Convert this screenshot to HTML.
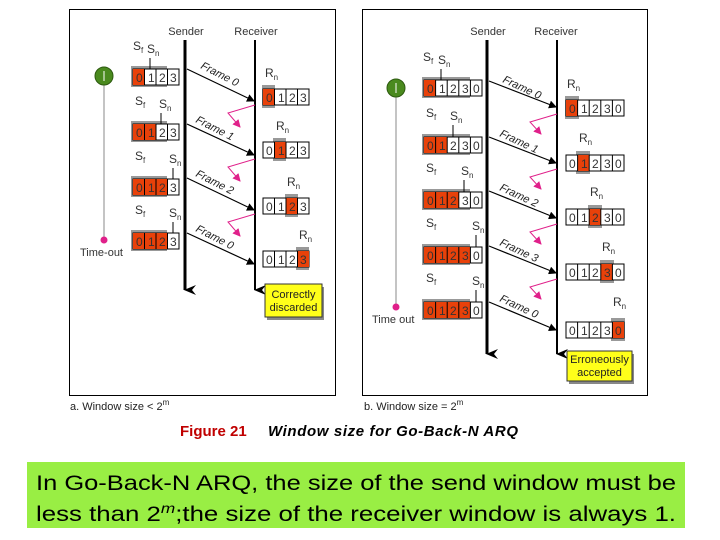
<!DOCTYPE html>
<html><head><meta charset="utf-8"><style>
html,body{margin:0;padding:0;background:#fff;width:720px;height:540px;overflow:hidden}
svg{display:block}
text{font-family:"Liberation Sans",sans-serif}
</style></head><body>
<svg width="720" height="540" viewBox="0 0 720 540" xmlns="http://www.w3.org/2000/svg">
<defs>
<marker id="ah" markerWidth="8" markerHeight="8" refX="7" refY="4" orient="auto" markerUnits="userSpaceOnUse"><path d="M0,0 L8,4 L0,8 z" fill="#000"/></marker>
<marker id="mh" markerWidth="8" markerHeight="8" refX="7" refY="4" orient="auto" markerUnits="userSpaceOnUse"><path d="M0,0 L8,4 L0,8 z" fill="#e0208a"/></marker>
<marker id="bh" markerWidth="10" markerHeight="12" refX="5" refY="11" orient="auto" markerUnits="userSpaceOnUse"><path d="M0,0 L5,12 L10,0 L5,4 z" fill="#000"/></marker>
</defs>
<!-- panel frames -->
<rect x="69.5" y="9.5" width="266" height="386" fill="#fff" stroke="#000" stroke-width="1"/>
<rect x="362.5" y="9.5" width="285" height="386" fill="#fff" stroke="#000" stroke-width="1"/>

<g font-size="11" fill="#333">
<!-- ===== Panel A ===== -->
<text x="186" y="35" text-anchor="middle">Sender</text>
<text x="256" y="35" text-anchor="middle">Receiver</text>
<line x1="185" y1="40" x2="185" y2="290" stroke="#000" stroke-width="3" marker-end="url(#bh)"/>
<line x1="255" y1="40" x2="255" y2="290" stroke="#000" stroke-width="2" marker-end="url(#bh)"/>
<!-- timer -->
<line x1="104" y1="78" x2="104" y2="240" stroke="#888" stroke-width="1"/>
<circle cx="104" cy="76" r="9" fill="#4a8a1e" stroke="#2d5a10"/>
<line x1="104" y1="71" x2="104" y2="81" stroke="#fff" stroke-width="1"/>
<circle cx="104" cy="240" r="3.5" fill="#e0208a"/>
<text x="80" y="256">Time-out</text>

<!-- sender windows A -->
<g font-size="12">
<!-- row1 -->
<rect x="131" y="66" width="36" height="21" fill="#999"/>
<rect x="133" y="69" width="46" height="16" fill="#fff" stroke="#000"/>
<rect x="133" y="69" width="11.5" height="16" fill="#e8410a"/>
<g stroke="#000"><line x1="144.5" y1="69" x2="144.5" y2="85"/><line x1="156" y1="69" x2="156" y2="85"/><line x1="167.5" y1="69" x2="167.5" y2="85"/></g>
<text x="136" y="82">0</text><text x="148" y="82">1</text><text x="159" y="82">2</text><text x="170" y="82">3</text>
<text x="133" y="50">S<tspan font-size="8" dy="3">f</tspan></text><text x="147" y="53">S<tspan font-size="8" dy="3">n</tspan></text>
<line x1="150" y1="58" x2="150" y2="69" stroke="#000"/>
<!-- row2 -->
<rect x="131" y="121" width="36" height="21" fill="#999"/>
<rect x="133" y="124" width="46" height="16" fill="#fff" stroke="#000"/>
<rect x="133" y="124" width="23" height="16" fill="#e8410a"/>
<g stroke="#000"><line x1="144.5" y1="124" x2="144.5" y2="140"/><line x1="156" y1="124" x2="156" y2="140"/><line x1="167.5" y1="124" x2="167.5" y2="140"/></g>
<text x="136" y="137">0</text><text x="148" y="137">1</text><text x="159" y="137">2</text><text x="170" y="137">3</text>
<text x="135" y="105">S<tspan font-size="8" dy="3">f</tspan></text><text x="159" y="108">S<tspan font-size="8" dy="3">n</tspan></text>
<line x1="161" y1="113" x2="161" y2="124" stroke="#000"/>
<!-- row3 -->
<rect x="131" y="176" width="36" height="21" fill="#999"/>
<rect x="133" y="179" width="46" height="16" fill="#fff" stroke="#000"/>
<rect x="133" y="179" width="34.5" height="16" fill="#e8410a"/>
<g stroke="#000"><line x1="144.5" y1="179" x2="144.5" y2="195"/><line x1="156" y1="179" x2="156" y2="195"/><line x1="167.5" y1="179" x2="167.5" y2="195"/></g>
<text x="136" y="192">0</text><text x="148" y="192">1</text><text x="159" y="192">2</text><text x="170" y="192">3</text>
<text x="135" y="160">S<tspan font-size="8" dy="3">f</tspan></text><text x="169" y="163">S<tspan font-size="8" dy="3">n</tspan></text>
<line x1="173" y1="168" x2="173" y2="179" stroke="#000"/>
<!-- row4 -->
<rect x="131" y="230" width="36" height="21" fill="#999"/>
<rect x="133" y="233" width="46" height="16" fill="#fff" stroke="#000"/>
<rect x="133" y="233" width="34.5" height="16" fill="#e8410a"/>
<g stroke="#000"><line x1="144.5" y1="233" x2="144.5" y2="249"/><line x1="156" y1="233" x2="156" y2="249"/><line x1="167.5" y1="233" x2="167.5" y2="249"/></g>
<text x="136" y="246">0</text><text x="148" y="246">1</text><text x="159" y="246">2</text><text x="170" y="246">3</text>
<text x="135" y="214">S<tspan font-size="8" dy="3">f</tspan></text><text x="169" y="217">S<tspan font-size="8" dy="3">n</tspan></text>
<line x1="173" y1="222" x2="173" y2="233" stroke="#000"/>

<!-- receiver windows A -->
<rect x="262" y="85" width="13" height="23" fill="#999"/>
<rect x="263" y="89" width="46" height="16" fill="#fff" stroke="#000"/>
<rect x="263" y="89" width="11.5" height="16" fill="#e8410a"/>
<g stroke="#000"><line x1="274.5" y1="89" x2="274.5" y2="105"/><line x1="286" y1="89" x2="286" y2="105"/><line x1="297.5" y1="89" x2="297.5" y2="105"/></g>
<text x="266" y="102">0</text><text x="278" y="102">1</text><text x="289" y="102">2</text><text x="300" y="102">3</text>
<text x="265" y="77">R<tspan font-size="8" dy="3">n</tspan></text>

<rect x="273" y="138" width="13" height="23" fill="#999"/>
<rect x="263" y="142" width="46" height="16" fill="#fff" stroke="#000"/>
<rect x="274.5" y="142" width="11.5" height="16" fill="#e8410a"/>
<g stroke="#000"><line x1="274.5" y1="142" x2="274.5" y2="158"/><line x1="286" y1="142" x2="286" y2="158"/><line x1="297.5" y1="142" x2="297.5" y2="158"/></g>
<text x="266" y="155">0</text><text x="278" y="155">1</text><text x="289" y="155">2</text><text x="300" y="155">3</text>
<text x="276" y="130">R<tspan font-size="8" dy="3">n</tspan></text>

<rect x="285" y="194" width="13" height="23" fill="#999"/>
<rect x="263" y="198" width="46" height="16" fill="#fff" stroke="#000"/>
<rect x="286" y="198" width="11.5" height="16" fill="#e8410a"/>
<g stroke="#000"><line x1="274.5" y1="198" x2="274.5" y2="214"/><line x1="286" y1="198" x2="286" y2="214"/><line x1="297.5" y1="198" x2="297.5" y2="214"/></g>
<text x="266" y="211">0</text><text x="278" y="211">1</text><text x="289" y="211">2</text><text x="300" y="211">3</text>
<text x="287" y="186">R<tspan font-size="8" dy="3">n</tspan></text>

<rect x="296" y="247" width="13" height="23" fill="#999"/>
<rect x="263" y="251" width="46" height="16" fill="#fff" stroke="#000"/>
<rect x="297.5" y="251" width="11.5" height="16" fill="#e8410a"/>
<g stroke="#000"><line x1="274.5" y1="251" x2="274.5" y2="267"/><line x1="286" y1="251" x2="286" y2="267"/><line x1="297.5" y1="251" x2="297.5" y2="267"/></g>
<text x="266" y="264">0</text><text x="278" y="264">1</text><text x="289" y="264">2</text><text x="300" y="264">3</text>
<text x="299" y="239">R<tspan font-size="8" dy="3">n</tspan></text>
</g>

<!-- frames A -->
<g stroke="#000" stroke-width="1.2">
<line x1="187" y1="69" x2="254" y2="101" marker-end="url(#ah)"/>
<line x1="187" y1="124" x2="254" y2="155" marker-end="url(#ah)"/>
<line x1="187" y1="178" x2="254" y2="210" marker-end="url(#ah)"/>
<line x1="187" y1="233" x2="254" y2="264" marker-end="url(#ah)"/>
</g>
<g font-style="italic" font-size="11" fill="#222">
<text transform="translate(200,68) rotate(27)">Frame 0</text>
<text transform="translate(195,122) rotate(27)">Frame 1</text>
<text transform="translate(195,176) rotate(27)">Frame 2</text>
<text transform="translate(195,231) rotate(27)">Frame 0</text>
</g>
<g stroke="#e0208a" stroke-width="1" fill="none">
<polyline points="255,105 228,113 240,127" marker-end="url(#mh)"/>
<polyline points="255,159 228,167 240,181" marker-end="url(#mh)"/>
<polyline points="255,214 228,222 240,236" marker-end="url(#mh)"/>
</g>
<rect x="267" y="287" width="57" height="33" fill="#888"/>
<rect x="265" y="284" width="57" height="33" fill="#ffff1a" stroke="#333"/>
<text x="293.5" y="298" text-anchor="middle" font-size="11" fill="#222">Correctly</text>
<text x="293.5" y="311" text-anchor="middle" font-size="11" fill="#222">discarded</text>
<text x="70" y="410" font-size="11" fill="#222">a. Window size &lt; 2<tspan font-size="8" dy="-5">m</tspan></text>

<!-- ===== Panel B ===== -->
<text x="488" y="35" text-anchor="middle">Sender</text>
<text x="556" y="35" text-anchor="middle">Receiver</text>
<line x1="487" y1="40" x2="487" y2="354" stroke="#000" stroke-width="3" marker-end="url(#bh)"/>
<line x1="557" y1="40" x2="557" y2="354" stroke="#000" stroke-width="2" marker-end="url(#bh)"/>
<line x1="396" y1="90" x2="396" y2="307" stroke="#888" stroke-width="1"/>
<circle cx="396" cy="88" r="9" fill="#4a8a1e" stroke="#2d5a10"/>
<line x1="396" y1="83" x2="396" y2="93" stroke="#fff"/>
<circle cx="396" cy="307" r="3.5" fill="#e0208a"/>
<text x="372" y="323">Time out</text>

<g font-size="12">
<!-- sender B rows: x=424, w=11.6 -->
<rect x="422" y="77" width="48" height="21" fill="#999"/>
<rect x="424" y="80" width="58" height="16" fill="#fff" stroke="#000"/>
<rect x="424" y="80" width="11.6" height="16" fill="#e8410a"/>
<g stroke="#000"><line x1="435.6" y1="80" x2="435.6" y2="96"/><line x1="447.2" y1="80" x2="447.2" y2="96"/><line x1="458.8" y1="80" x2="458.8" y2="96"/><line x1="470.4" y1="80" x2="470.4" y2="96"/></g>
<text x="427" y="93">0</text><text x="439" y="93">1</text><text x="450" y="93">2</text><text x="462" y="93">3</text><text x="473" y="93">0</text>
<text x="423" y="61">S<tspan font-size="8" dy="3">f</tspan></text><text x="438" y="64">S<tspan font-size="8" dy="3">n</tspan></text>
<line x1="441" y1="69" x2="441" y2="80" stroke="#000"/>

<rect x="422" y="134" width="48" height="21" fill="#999"/>
<rect x="424" y="137" width="58" height="16" fill="#fff" stroke="#000"/>
<rect x="424" y="137" width="23.2" height="16" fill="#e8410a"/>
<g stroke="#000"><line x1="435.6" y1="137" x2="435.6" y2="153"/><line x1="447.2" y1="137" x2="447.2" y2="153"/><line x1="458.8" y1="137" x2="458.8" y2="153"/><line x1="470.4" y1="137" x2="470.4" y2="153"/></g>
<text x="427" y="150">0</text><text x="439" y="150">1</text><text x="450" y="150">2</text><text x="462" y="150">3</text><text x="473" y="150">0</text>
<text x="426" y="117">S<tspan font-size="8" dy="3">f</tspan></text><text x="450" y="120">S<tspan font-size="8" dy="3">n</tspan></text>
<line x1="453" y1="125" x2="453" y2="137" stroke="#000"/>

<rect x="422" y="189" width="48" height="21" fill="#999"/>
<rect x="424" y="192" width="58" height="16" fill="#fff" stroke="#000"/>
<rect x="424" y="192" width="34.8" height="16" fill="#e8410a"/>
<g stroke="#000"><line x1="435.6" y1="192" x2="435.6" y2="208"/><line x1="447.2" y1="192" x2="447.2" y2="208"/><line x1="458.8" y1="192" x2="458.8" y2="208"/><line x1="470.4" y1="192" x2="470.4" y2="208"/></g>
<text x="427" y="205">0</text><text x="439" y="205">1</text><text x="450" y="205">2</text><text x="462" y="205">3</text><text x="473" y="205">0</text>
<text x="426" y="172">S<tspan font-size="8" dy="3">f</tspan></text><text x="461" y="175">S<tspan font-size="8" dy="3">n</tspan></text>
<line x1="464" y1="180" x2="464" y2="192" stroke="#000"/>

<rect x="422" y="244" width="48" height="21" fill="#999"/>
<rect x="424" y="247" width="58" height="16" fill="#fff" stroke="#000"/>
<rect x="424" y="247" width="46.4" height="16" fill="#e8410a"/>
<g stroke="#000"><line x1="435.6" y1="247" x2="435.6" y2="263"/><line x1="447.2" y1="247" x2="447.2" y2="263"/><line x1="458.8" y1="247" x2="458.8" y2="263"/><line x1="470.4" y1="247" x2="470.4" y2="263"/></g>
<text x="427" y="260">0</text><text x="439" y="260">1</text><text x="450" y="260">2</text><text x="462" y="260">3</text><text x="473" y="260">0</text>
<text x="426" y="227">S<tspan font-size="8" dy="3">f</tspan></text><text x="472" y="230">S<tspan font-size="8" dy="3">n</tspan></text>
<line x1="476" y1="235" x2="476" y2="247" stroke="#000"/>

<rect x="422" y="299" width="48" height="21" fill="#999"/>
<rect x="424" y="302" width="58" height="16" fill="#fff" stroke="#000"/>
<rect x="424" y="302" width="46.4" height="16" fill="#e8410a"/>
<g stroke="#000"><line x1="435.6" y1="302" x2="435.6" y2="318"/><line x1="447.2" y1="302" x2="447.2" y2="318"/><line x1="458.8" y1="302" x2="458.8" y2="318"/><line x1="470.4" y1="302" x2="470.4" y2="318"/></g>
<text x="427" y="315">0</text><text x="439" y="315">1</text><text x="450" y="315">2</text><text x="462" y="315">3</text><text x="473" y="315">0</text>
<text x="426" y="282">S<tspan font-size="8" dy="3">f</tspan></text><text x="472" y="285">S<tspan font-size="8" dy="3">n</tspan></text>
<line x1="476" y1="290" x2="476" y2="302" stroke="#000"/>

<!-- receiver B x=566 -->
<rect x="565" y="96" width="14" height="23" fill="#999"/>
<rect x="566" y="100" width="58" height="16" fill="#fff" stroke="#000"/>
<rect x="566" y="100" width="11.6" height="16" fill="#e8410a"/>
<g stroke="#000"><line x1="577.6" y1="100" x2="577.6" y2="116"/><line x1="589.2" y1="100" x2="589.2" y2="116"/><line x1="600.8" y1="100" x2="600.8" y2="116"/><line x1="612.4" y1="100" x2="612.4" y2="116"/></g>
<text x="569" y="113">0</text><text x="581" y="113">1</text><text x="592" y="113">2</text><text x="604" y="113">3</text><text x="615" y="113">0</text>
<text x="567" y="88">R<tspan font-size="8" dy="3">n</tspan></text>

<rect x="576" y="151" width="14" height="23" fill="#999"/>
<rect x="566" y="155" width="58" height="16" fill="#fff" stroke="#000"/>
<rect x="577.6" y="155" width="11.6" height="16" fill="#e8410a"/>
<g stroke="#000"><line x1="577.6" y1="155" x2="577.6" y2="171"/><line x1="589.2" y1="155" x2="589.2" y2="171"/><line x1="600.8" y1="155" x2="600.8" y2="171"/><line x1="612.4" y1="155" x2="612.4" y2="171"/></g>
<text x="569" y="168">0</text><text x="581" y="168">1</text><text x="592" y="168">2</text><text x="604" y="168">3</text><text x="615" y="168">0</text>
<text x="579" y="142">R<tspan font-size="8" dy="3">n</tspan></text>

<rect x="588" y="205" width="14" height="23" fill="#999"/>
<rect x="566" y="209" width="58" height="16" fill="#fff" stroke="#000"/>
<rect x="589.2" y="209" width="11.6" height="16" fill="#e8410a"/>
<g stroke="#000"><line x1="577.6" y1="209" x2="577.6" y2="225"/><line x1="589.2" y1="209" x2="589.2" y2="225"/><line x1="600.8" y1="209" x2="600.8" y2="225"/><line x1="612.4" y1="209" x2="612.4" y2="225"/></g>
<text x="569" y="222">0</text><text x="581" y="222">1</text><text x="592" y="222">2</text><text x="604" y="222">3</text><text x="615" y="222">0</text>
<text x="590" y="196">R<tspan font-size="8" dy="3">n</tspan></text>

<rect x="600" y="260" width="14" height="23" fill="#999"/>
<rect x="566" y="264" width="58" height="16" fill="#fff" stroke="#000"/>
<rect x="600.8" y="264" width="11.6" height="16" fill="#e8410a"/>
<g stroke="#000"><line x1="577.6" y1="264" x2="577.6" y2="280"/><line x1="589.2" y1="264" x2="589.2" y2="280"/><line x1="600.8" y1="264" x2="600.8" y2="280"/><line x1="612.4" y1="264" x2="612.4" y2="280"/></g>
<text x="569" y="277">0</text><text x="581" y="277">1</text><text x="592" y="277">2</text><text x="604" y="277">3</text><text x="615" y="277">0</text>
<text x="602" y="251">R<tspan font-size="8" dy="3">n</tspan></text>

<rect x="611" y="318" width="14" height="23" fill="#999"/>
<rect x="566" y="322" width="58" height="16" fill="#fff" stroke="#000"/>
<rect x="612.4" y="322" width="11.6" height="16" fill="#e8410a"/>
<g stroke="#000"><line x1="577.6" y1="322" x2="577.6" y2="338"/><line x1="589.2" y1="322" x2="589.2" y2="338"/><line x1="600.8" y1="322" x2="600.8" y2="338"/><line x1="612.4" y1="322" x2="612.4" y2="338"/></g>
<text x="569" y="335">0</text><text x="581" y="335">1</text><text x="592" y="335">2</text><text x="604" y="335">3</text><text x="615" y="335">0</text>
<text x="613" y="306">R<tspan font-size="8" dy="3">n</tspan></text>
</g>

<g stroke="#000" stroke-width="1.2">
<line x1="489" y1="81" x2="556" y2="107" marker-end="url(#ah)"/>
<line x1="489" y1="137" x2="556" y2="163" marker-end="url(#ah)"/>
<line x1="489" y1="191" x2="556" y2="218" marker-end="url(#ah)"/>
<line x1="489" y1="246" x2="556" y2="273" marker-end="url(#ah)"/>
<line x1="489" y1="302" x2="556" y2="330" marker-end="url(#ah)"/>
</g>
<g font-style="italic" font-size="11" fill="#222">
<text transform="translate(502,82) rotate(25)">Frame 0</text>
<text transform="translate(499,136) rotate(25)">Frame 1</text>
<text transform="translate(499,190) rotate(25)">Frame 2</text>
<text transform="translate(499,245) rotate(25)">Frame 3</text>
<text transform="translate(499,301) rotate(25)">Frame 0</text>
</g>
<g stroke="#e0208a" stroke-width="1" fill="none">
<polyline points="557,114 530,122 541,134" marker-end="url(#mh)"/>
<polyline points="557,169 530,177 541,189" marker-end="url(#mh)"/>
<polyline points="557,224 530,232 541,244" marker-end="url(#mh)"/>
<polyline points="557,279 530,287 541,299" marker-end="url(#mh)"/>
</g>
<rect x="569" y="354" width="65" height="30" fill="#888"/>
<rect x="567" y="351" width="65" height="30" fill="#ffff1a" stroke="#333"/>
<text x="599.5" y="363" text-anchor="middle" font-size="11" fill="#222">Erroneously</text>
<text x="599.5" y="376" text-anchor="middle" font-size="11" fill="#222">accepted</text>
<text x="364" y="410" font-size="11" fill="#222">b. Window size = 2<tspan font-size="8" dy="-5">m</tspan></text>
</g>

<!-- caption -->
<text x="180" y="436" font-family="Liberation Serif,serif" font-size="15" font-weight="bold" fill="#c00000">Figure 21</text>
<text x="268" y="436" font-family="Liberation Serif,serif" font-size="15" font-weight="bold" font-style="italic" fill="#000" textLength="250">Window size for Go-Back-N ARQ</text>

<rect x="27" y="462" width="658" height="66" fill="#99ee44"/>
<text x="36" y="490" font-size="21" fill="#000" textLength="640" lengthAdjust="spacingAndGlyphs">In Go-Back-N ARQ, the size of the send window must be</text>
<text x="36" y="521" font-size="21" fill="#000" textLength="640" lengthAdjust="spacingAndGlyphs">less than 2<tspan font-size="14" dy="-8" font-style="italic">m</tspan><tspan dy="8">;the size of the receiver window is always 1.</tspan></text>
</svg>
</body></html>
